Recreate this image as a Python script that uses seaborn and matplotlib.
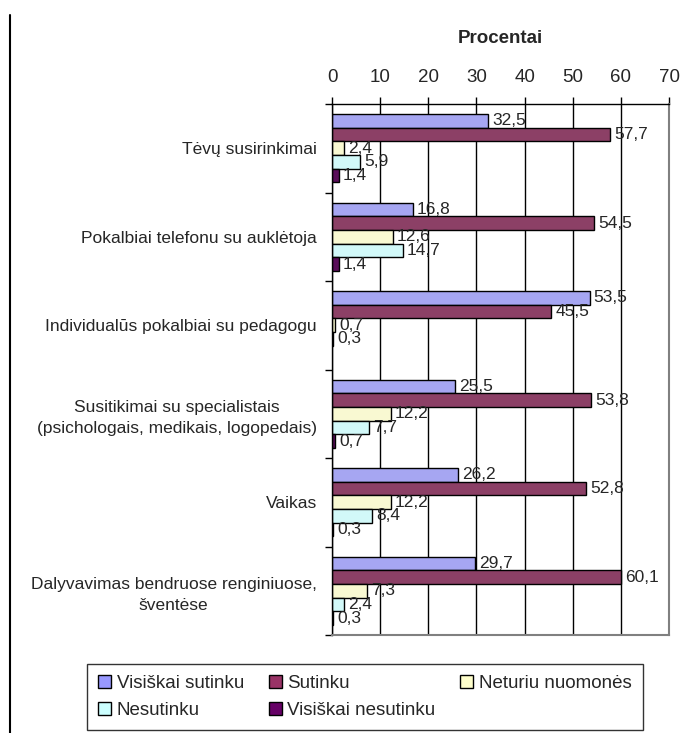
import numpy as np
import pandas as pd
import seaborn as sns
import matplotlib.pyplot as plt
from matplotlib.lines import Line2D
from matplotlib.patches import Patch


categories = [
    "Tėvų susirinkimai",
    "Pokalbiai telefonu su auklėtoja",
    "Individualūs pokalbiai su pedagogu",
    "Susitikimai su specialistais\n(psichologais, medikais, logopedais)",
    "Vaikas",
    "Dalyvavimas bendruose renginiuose,\nšventėse",
]
series = ["Visiškai sutinku", "Sutinku", "Neturiu nuomonės", "Nesutinku", "Visiškai nesutinku"]
visiskai_sutinku = [32.5, 16.8, 53.5, 25.5, 26.2, 29.7]
sutinku = [57.7, 54.5, 45.5, 53.8, 52.8, 60.1]
neturiu_nuomones = [2.4, 12.6, 0.7, 12.2, 12.2, 7.3]
nesutinku = [5.9, 14.7, 0.3, 7.7, 8.4, 2.4]
visiskai_nesutinku = [1.4, 1.4, np.nan, 0.7, 0.3, 0.3]
colors = ["#9999FF", "#993366", "#FFFFCC", "#CCFFFF", "#660066"]

wide = pd.DataFrame({
    "category": categories,
    series[0]: visiskai_sutinku,
    series[1]: sutinku,
    series[2]: neturiu_nuomones,
    series[3]: nesutinku,
    series[4]: visiskai_nesutinku,
})
df = wide.melt(id_vars="category", var_name="series", value_name="value").dropna()

sns.set_style("white")
plt.rcParams["font.family"] = ["Liberation Sans", "DejaVu Sans"]

fig = plt.figure(figsize=(6.86, 7.33), dpi=100)
ax = fig.add_axes([332 / 686, 1 - 635 / 733, 337 / 686, 531 / 733])

sns.barplot(data=df, y="category", x="value", hue="series", order=categories,
            hue_order=series, palette=colors, orient="h", width=0.77, gap=0,
            edgecolor="black", linewidth=1, legend=False, ax=ax)

for cont in ax.containers:
    ax.bar_label(cont, fmt=lambda v: f"{v:.1f}".replace(".", ","),
                 padding=3, fontsize=12.5)

ax.set_xlim(0, 70)
ax.set_xticks(range(0, 71, 10))
ax.xaxis.tick_top()
ax.xaxis.set_label_position("top")
ax.tick_params(axis="x", top=True, bottom=False, labeltop=True, labelbottom=False,
               length=5, width=1, color="black", direction="out", labelsize=13.5, pad=8)
ax.set_xlabel("Procentai", fontsize=13.5, fontweight="bold", labelpad=19)
ax.set_ylabel("")

ax.xaxis.grid(True, color="black", linewidth=1)
ax.set_axisbelow(True)

ax.set_yticks(np.arange(-0.5, len(categories)), minor=True)
ax.tick_params(axis="y", which="major", length=0, pad=11, labelsize=12.5)
ax.tick_params(axis="y", which="minor", left=True, length=5, width=1,
               color="black", direction="out")
for lbl in ax.get_yticklabels():
    lbl.set_multialignment("center")
    lbl.set_linespacing(1.5)

for side in ["top", "left"]:
    ax.spines[side].set_color("black")
    ax.spines[side].set_linewidth(1)
for side in ["right", "bottom"]:
    ax.spines[side].set_color("#808080")
    ax.spines[side].set_linewidth(1.5)

handles = [Patch(facecolor=c, edgecolor="black", linewidth=1) for c in colors]
order = [0, 3, 1, 4, 2]
leg = fig.legend([handles[i] for i in order], [series[i] for i in order],
                 loc="upper left", bbox_to_anchor=(87 / 686, 1 - 664 / 733),
                 ncol=3, frameon=True, fancybox=False, edgecolor="black",
                 fontsize=13.5, handlelength=0.7, handleheight=0.7,
                 handletextpad=0.3, columnspacing=1.3, borderpad=0.6,
                 labelspacing=0.5, borderaxespad=0)
leg.get_frame().set_linewidth(1)

fig.add_artist(Line2D([10 / 686, 10 / 686], [0, 1 - 15 / 733], color="black",
                      linewidth=1.5, transform=fig.transFigure))

fig.savefig("out.png", dpi=100)
